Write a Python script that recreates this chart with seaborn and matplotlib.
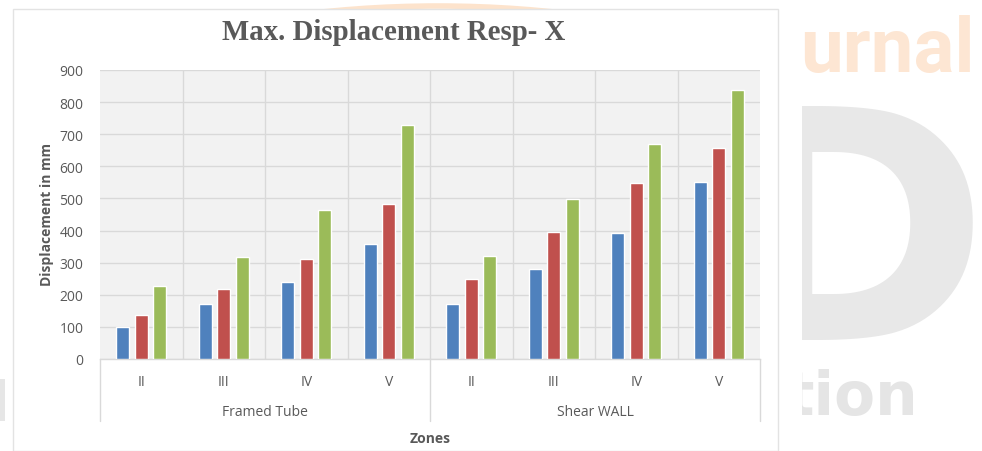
import matplotlib
matplotlib.use("Agg")
import matplotlib.pyplot as plt
import seaborn as sns
import pandas as pd
from matplotlib import font_manager
from matplotlib.patches import Rectangle, Arc
from matplotlib.lines import Line2D
from matplotlib.transforms import blended_transform_factory

# ---- data -------------------------------------------------------------
systems = ["Framed Tube", "Shear WALL"]
zones = ["II", "III", "IV", "V"]
series_names = ["Series 1", "Series 2", "Series 3"]
series1 = [100, 170, 240, 358, 171, 280, 392, 550]
series2 = [138, 218, 311, 483, 249, 397, 547, 657]
series3 = [227, 318, 465, 729, 320, 498, 670, 839]
yticks = list(range(0, 901, 100))

title = "Max. Displacement Resp- X"
ylabel = "Displacement in mm"
xlabel = "Zones"

colors = ["#4F81BD", "#C0504D", "#9BBB59"]
text_grey = "#595959"
grid_grey = "#d9d9d9"

sns.set_theme(style="white")

available = {f.name for f in font_manager.fontManager.ttflist}
sans = [f for f in ["Liberation Sans Narrow", "Open Sans", "DejaVu Sans"] if f in available]
serif = [f for f in ["Liberation Serif", "DejaVu Serif"] if f in available]
plt.rcParams["font.family"] = sans

# ---- long table for seaborn --------------------------------------------
keys = [f"{s} {z}" for s in systems for z in zones]
records = []
for name, vals in zip(series_names, [series1, series2, series3]):
    for k, v in zip(keys, vals):
        records.append({"key": k, "series": name, "value": v})
df = pd.DataFrame(records)

W, H = 982, 452
fig = plt.figure(figsize=(W / 100, H / 100), dpi=100)
fig.patch.set_facecolor("white")


def fx(px):
    return px / W


def fy(py):
    return 1 - py / H


# faint page lettering behind the chart
fig.text(fx(800), fy(72), "urnal", fontsize=55, fontweight="bold",
         color="#fde6d3", family=["Roboto", "DejaVu Sans"], ha="left",
         va="baseline", zorder=0)
fig.text(fx(721), fy(340), "D", fontsize=232, fontweight="bold",
         color="#e8e8e8", family=["DejaVu Sans"], ha="left", va="baseline", zorder=0)
fig.text(fx(785), fy(415), "tion", fontsize=43, fontweight="bold",
         color="#e5e5e5", family=["DejaVu Sans"], ha="left", va="baseline", zorder=0)
fig.patches.append(Rectangle((0, fy(422)), fx(5), fy(380) - fy(422),
                             transform=fig.transFigure, facecolor="#e6e6e6",
                             edgecolor="none", zorder=0))
fig.patches.append(Arc((fx(438), fy(147)), fx(800), 280 / H, theta1=60, theta2=120,
                       transform=fig.transFigure, edgecolor="#fde3cc",
                       linewidth=4, zorder=0))

# white sheet carrying the chart
fig.patches.append(Rectangle((fx(5), 0), fx(802) - fx(5), fy(10),
                             transform=fig.transFigure, facecolor="white",
                             edgecolor="none", zorder=0.5))
# chart frame
fig.patches.append(Rectangle((fx(13), fy(452)), fx(778) - fx(13), fy(10) - fy(452),
                             transform=fig.transFigure, facecolor="white",
                             edgecolor="#e3e3e3", linewidth=1.0, zorder=1))

ax = fig.add_axes([fx(100), fy(360), fx(760) - fx(100), fy(71) - fy(360)])
ax.set_zorder(2)
ax.set_facecolor("#f2f2f2")

sns.barplot(data=df, x="key", y="value", hue="series", order=keys,
            hue_order=series_names, palette=colors, saturation=1,
            width=0.667, gap=0.29, legend=False, ax=ax, zorder=3)

ax.set_xlim(-0.5, len(keys) - 0.5)
ax.set_ylim(0, 900)
ax.set_yticks(yticks)
ax.set_yticklabels([str(t) for t in yticks])
ax.yaxis.grid(True, color=grid_grey, linewidth=1.0)
ax.set_axisbelow(True)
for b in [i + 0.5 for i in range(len(keys) - 1)]:
    ax.axvline(b, color=grid_grey, linewidth=1.0, zorder=1)

for side in ["top", "right", "left"]:
    ax.spines[side].set_visible(False)
ax.spines["bottom"].set_color(grid_grey)
ax.spines["bottom"].set_linewidth(1.0)

ax.tick_params(axis="y", length=0, pad=12, labelsize=10, labelcolor=text_grey)
ax.set_xticks(range(len(keys)))
ax.set_xticklabels(zones * len(systems))
ax.tick_params(axis="x", length=0, pad=11, labelsize=10, labelcolor=text_grey)
ax.set_xlabel("")
ax.set_ylabel("")

# second level of category labels and separators
trans = blended_transform_factory(ax.transData, ax.transAxes)
h_ax = 360 - 71
for gi, s in enumerate(systems):
    center = gi * len(zones) + (len(zones) - 1) / 2
    ax.text(center, -(413 - 360) / h_ax, s, transform=trans, ha="center",
            va="center", fontsize=10, color=text_grey)
for bx in [-0.5, len(zones) - 0.5, len(keys) - 0.5]:
    ax.add_line(Line2D([bx, bx], [0, -(422 - 360) / h_ax], transform=trans,
                       color=grid_grey, linewidth=1.0, clip_on=False))

fig.text(fx(430), fy(439), xlabel, ha="center", va="center", fontsize=10,
         fontweight="bold", color=text_grey, zorder=3)
fig.text(fx(47), fy(215), ylabel, ha="center", va="center", rotation=90,
         fontsize=10, fontweight="bold", color=text_grey, zorder=3)
fig.text(fx(394), fy(32), title, ha="center", va="center", fontsize=20.8,
         fontweight="bold", color=text_grey, family=serif, zorder=3)

fig.savefig("out.png", dpi=100)
